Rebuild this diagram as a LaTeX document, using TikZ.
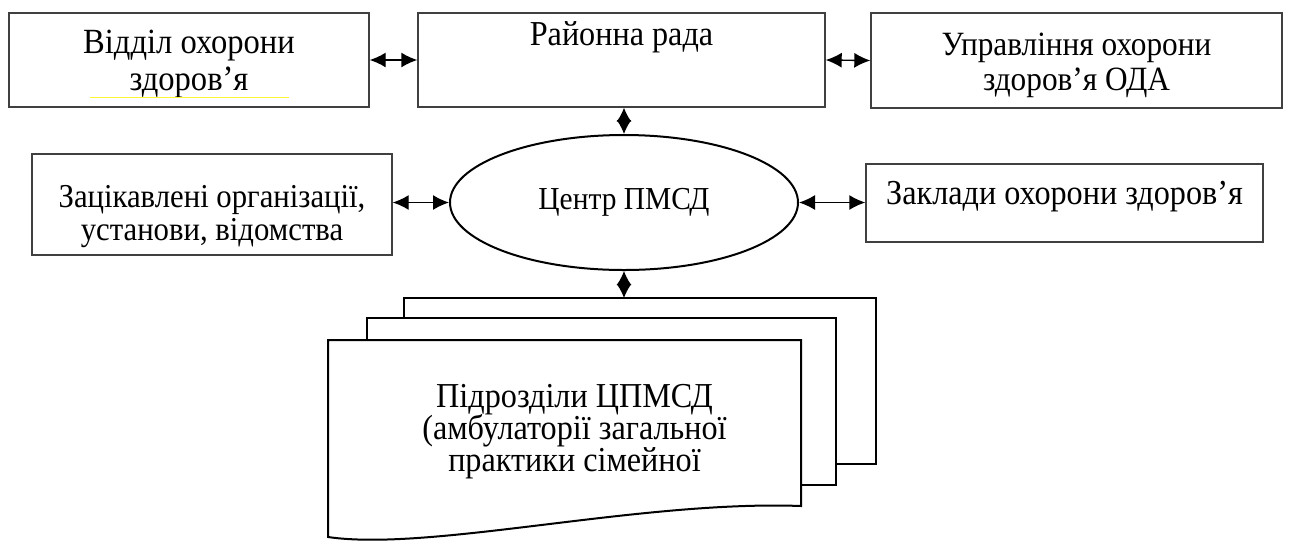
\documentclass[tikz,border=0pt]{standalone}
\usepackage{fontspec}
\setmainfont{Liberation Serif}[FakeStretch=0.92]
\usetikzlibrary{shapes.geometric,arrows.meta}
\lineskiplimit=-100pt

\tikzset{
  box/.style={draw=black!75, line width=0.7pt, align=center, inner sep=0pt},
  arr/.style={>={Latex[length=8pt,width=7.5pt]}, <->, line width=0.7pt},
  varr/.style={>={Latex[length=7pt,width=7.5pt]}, <->, line width=0.7pt},
  page/.style={draw=black, line width=1pt, fill=white},
}

\begin{document}
\begin{tikzpicture}[x=0.5pt,y=-0.5pt,font=\fontsize{17.5}{18.5}\selectfont]
\useasboundingbox (0,0) rectangle (1292,543);
% top row
\node[box, minimum width=180pt, minimum height=47pt, font=\fontsize{17.7}{18.5}\selectfont] (vidil) at (189,60) {\rule{0pt}{15.4pt}Відділ охорони\\здоров’я};
\draw[yellow!80, line width=0.4pt] (90,97) -- (289,97);
\node[box, minimum width=203.5pt, minimum height=47pt, text height=16pt, text depth=31pt] (rada) at (621.5,60) {Районна рада};
\node[box, minimum width=205.5pt, minimum height=47.5pt, font=\fontsize{17}{17.5}\selectfont] (upr) at (1076.5,60.5) {\rule{0pt}{15.75pt}Управління охорони\\здоров’я ОДА};
% middle row
\node[ellipse, draw=black, line width=1pt, minimum width=174pt, minimum height=67.5pt, inner sep=0pt, font=\fontsize{16}{18}\selectfont] (centr) at (624,202.5) {Центр ПМСД};
\node[box, minimum width=180pt, minimum height=50.5pt, font=\fontsize{16.7}{16.5}\selectfont] (zacik) at (212,204.5) {\rule{0pt}{22.6pt}Зацікавлені організації,\\установи, відомства};
\node[box, minimum width=198.5pt, minimum height=39pt, text height=20pt, text depth=19pt] (zaklad) at (1064.5,203) {Заклади охорони здоров’я};
% pages
\draw[page] (404,298) rectangle (876,464);
\draw[page] (367,318) rectangle (836,485);
\draw[page] (328,340) -- (801,340) -- (801,506) .. controls (640,500) and (430,552) .. (328,537) -- cycle;
\coordinate (doctop) at (624,298);
\node[align=center, inner sep=0pt, font=\fontsize{17.5}{16}\selectfont] (pidr) at (574.5,431.5) {Підрозділи ЦПМСД\\(амбулаторії загальної\\практики сімейної};
% connectors
\draw[arr] (vidil.east) -- (rada.west);
\draw[arr] (rada.east) -- (upr.west);
\draw[varr] (centr.north) -- (centr.north |- rada.south);
\draw[varr] (centr.south) -- (doctop);
\draw[arr] (centr.west -| zacik.east) -- (centr.west);
\draw[arr] (centr.east) -- (centr.east -| zaklad.west);
\end{tikzpicture}
\end{document}
